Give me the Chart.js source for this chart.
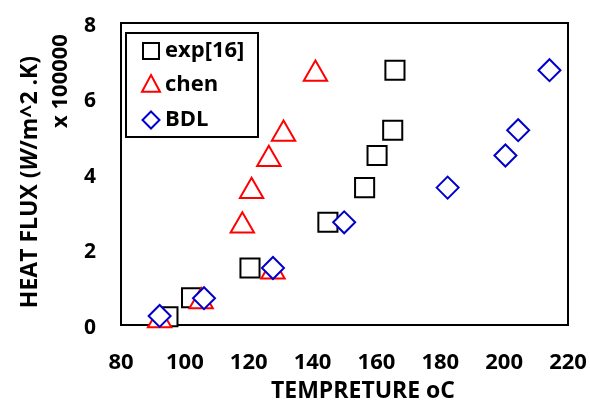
<!DOCTYPE html>
<html>
<head>
<meta charset="utf-8">
<script src="https://cdn.jsdelivr.net/npm/chart.js@4.4.0/dist/chart.umd.min.js"></script>
<style>
html,body{margin:0;padding:0;background:#fff;}
#wrap{width:590px;height:401px;position:relative;}
</style>
</head>
<body>
<div id="wrap"><canvas id="heatChart"></canvas></div>
<script>
// values (temperature oC, heat flux x 100000 W/m^2.K)
const expTemp  = [94.7, 102.1, 120.4, 144.8, 156.3, 160.2, 165.1, 165.8];
const expFlux  = [0.22, 0.72, 1.51, 2.72, 3.64, 4.49, 5.16, 6.75];
const chenTemp = [92.1, 105.1, 127.6, 118.0, 120.9, 126.3, 130.9, 140.9];
const chenFlux = [0.12, 0.62, 1.41, 2.63, 3.54, 4.39, 5.06, 6.65];
const bdlTemp  = [92.1, 106.0, 127.6, 149.9, 182.3, 200.4, 204.4, 214.2];
const bdlFlux  = [0.24, 0.71, 1.51, 2.72, 3.64, 4.49, 5.16, 6.75];
const xTicks = [80, 100, 120, 140, 160, 180, 200, 220];
const yTicks = [0, 2, 4, 6, 8];
const seriesNames = ['exp[16]', 'chen', 'BDL'];

const FONT = '"Open Sans"';

function toPoints(xs, ys){
    return xs.map((x, i) => ({x: x, y: ys[i]}));
}

// little marker shapes for the boxed legend
function drawMark(ctx, style, x, y, r){
    ctx.beginPath();
    if(style === 'rect'){
        ctx.rect(x - r, y - r, 2 * r, 2 * r);
    } else if(style === 'triangle'){
        ctx.moveTo(x, y - r * 1.1);
        ctx.lineTo(x + r, y + r * 0.75);
        ctx.lineTo(x - r, y + r * 0.75);
        ctx.closePath();
    } else {
        ctx.moveTo(x, y - r);
        ctx.lineTo(x + r, y);
        ctx.lineTo(x, y + r);
        ctx.lineTo(x - r, y);
        ctx.closePath();
    }
    ctx.fill();
    ctx.stroke();
}

// no extra room for edge tick labels, keep the plot box where it is
function noEdgePad(s){
    s.paddingTop = 0; s.paddingBottom = 0;
    s.paddingLeft = 0; s.paddingRight = 0;
}

const framePlugin = {
    id: 'frame',
    beforeDatasetsDraw(chart){
        const {ctx, chartArea: a} = chart;
        ctx.save();
        ctx.strokeStyle = '#000';
        ctx.lineWidth = 2;
        ctx.strokeRect(a.left, a.top, a.right - a.left, a.bottom - a.top);
        ctx.restore();
    },
    afterDatasetsDraw(chart){
        const {ctx, chartArea: a} = chart;
        ctx.save();
        // legend box
        const lx = a.left + 5, ly = a.top + 10, lw = 132, lh = 104;
        ctx.fillStyle = '#fff';
        ctx.fillRect(lx, ly, lw, lh);
        ctx.strokeStyle = '#000';
        ctx.lineWidth = 2;
        ctx.strokeRect(lx, ly, lw, lh);
        const rows = [18, 52, 87];
        const order = [2, 1, 0]; // exp, chen, BDL -> dataset index
        ctx.font = 'bold 22px ' + FONT;
        ctx.textBaseline = 'middle';
        ctx.textAlign = 'left';
        order.forEach((di, k) => {
            const ds = chart.data.datasets[di];
            ctx.fillStyle = '#fff';
            ctx.strokeStyle = ds.borderColor;
            ctx.lineWidth = 2;
            const r = ds.pointStyle === 'rect' ? 8 : (ds.pointStyle === 'triangle' ? 9 : 8.5);
            drawMark(ctx, ds.pointStyle, lx + 25, ly + rows[k], r);
            ctx.fillStyle = '#000';
            ctx.fillText(ds.label, lx + 39, ly + rows[k]);
        });

        // axis titles
        ctx.fillStyle = '#000';
        ctx.textAlign = 'center';
        ctx.font = 'bold 23px ' + FONT;
        ctx.fillText('TEMPRETURE oC', 363, 391);

        // y title with italic W
        const parts = [
            {t: 'HEAT FLUX (', f: 'bold 23px ' + FONT},
            {t: 'W', f: 'italic bold 23px ' + FONT},
            {t: '/m^2 .K)', f: 'bold 23px ' + FONT}
        ];
        let total = 0;
        parts.forEach(p => { ctx.font = p.f; p.w = ctx.measureText(p.t).width; total += p.w; });
        ctx.translate(30, 182);
        ctx.rotate(-Math.PI / 2);
        ctx.textAlign = 'left';
        let cx = -total / 2;
        parts.forEach(p => { ctx.font = p.f; ctx.fillText(p.t, cx, 0); cx += p.w; });
        ctx.restore();

        ctx.save();
        ctx.translate(61, 81);
        ctx.rotate(-Math.PI / 2);
        ctx.textAlign = 'center';
        ctx.textBaseline = 'middle';
        ctx.font = 'bold 22px ' + FONT;
        ctx.fillStyle = '#000';
        ctx.fillText('x 100000', 0, 0);
        ctx.restore();
    }
};

const ctx = document.getElementById('heatChart').getContext('2d');
const heatChart = new Chart(ctx, {
    type: 'scatter',
    data: {
        datasets: [{
            label: seriesNames[2],
            data: toPoints(bdlTemp, bdlFlux),
            pointStyle: 'rectRot',
            pointRadius: 11,
            borderColor: '#0000CC',
            backgroundColor: '#fff',
            pointBorderWidth: 2,
            order: 0,
            clip: false
        }, {
            label: seriesNames[1],
            data: toPoints(chenTemp, chenFlux),
            pointStyle: 'triangle',
            pointRadius: 13.5,
            borderColor: '#FF0000',
            backgroundColor: '#fff',
            pointBorderWidth: 2,
            order: 1,
            clip: false
        }, {
            label: seriesNames[0],
            data: toPoints(expTemp, expFlux),
            pointStyle: 'rect',
            pointRadius: 13.5,
            borderColor: '#000',
            backgroundColor: '#fff',
            pointBorderWidth: 2,
            order: 2,
            clip: false
        }]
    },
    options: {
        responsive: true,
        maintainAspectRatio: false,
        animation: false,
        layout: {autoPadding: false, padding: {top: 23, right: 22, left: 0, bottom: 0}},
        plugins: {
            legend: {display: false},
            tooltip: {enabled: false}
        },
        scales: {
            x: {
                type: 'linear',
                min: 80, max: 220,
                afterBuildTicks: s => { s.ticks = xTicks.map(v => ({value: v})); },
                afterFit: s => { s.height = 76; noEdgePad(s); },
                grid: {display: false, drawTicks: false},
                border: {display: false},
                ticks: {color: '#000', padding: 25, font: {family: 'Open Sans', size: 22, weight: 'bold'}}
            },
            y: {
                type: 'linear',
                min: 0, max: 8,
                afterBuildTicks: s => { s.ticks = yTicks.map(v => ({value: v})); },
                afterFit: s => { s.width = 121; noEdgePad(s); },
                grid: {display: false, drawTicks: false},
                border: {display: false},
                ticks: {color: '#000', padding: 25, labelOffset: 3, font: {family: 'Open Sans', size: 21, weight: 'bold'}}
            }
        }
    },
    plugins: [framePlugin]
});
</script>
</body>
</html>
